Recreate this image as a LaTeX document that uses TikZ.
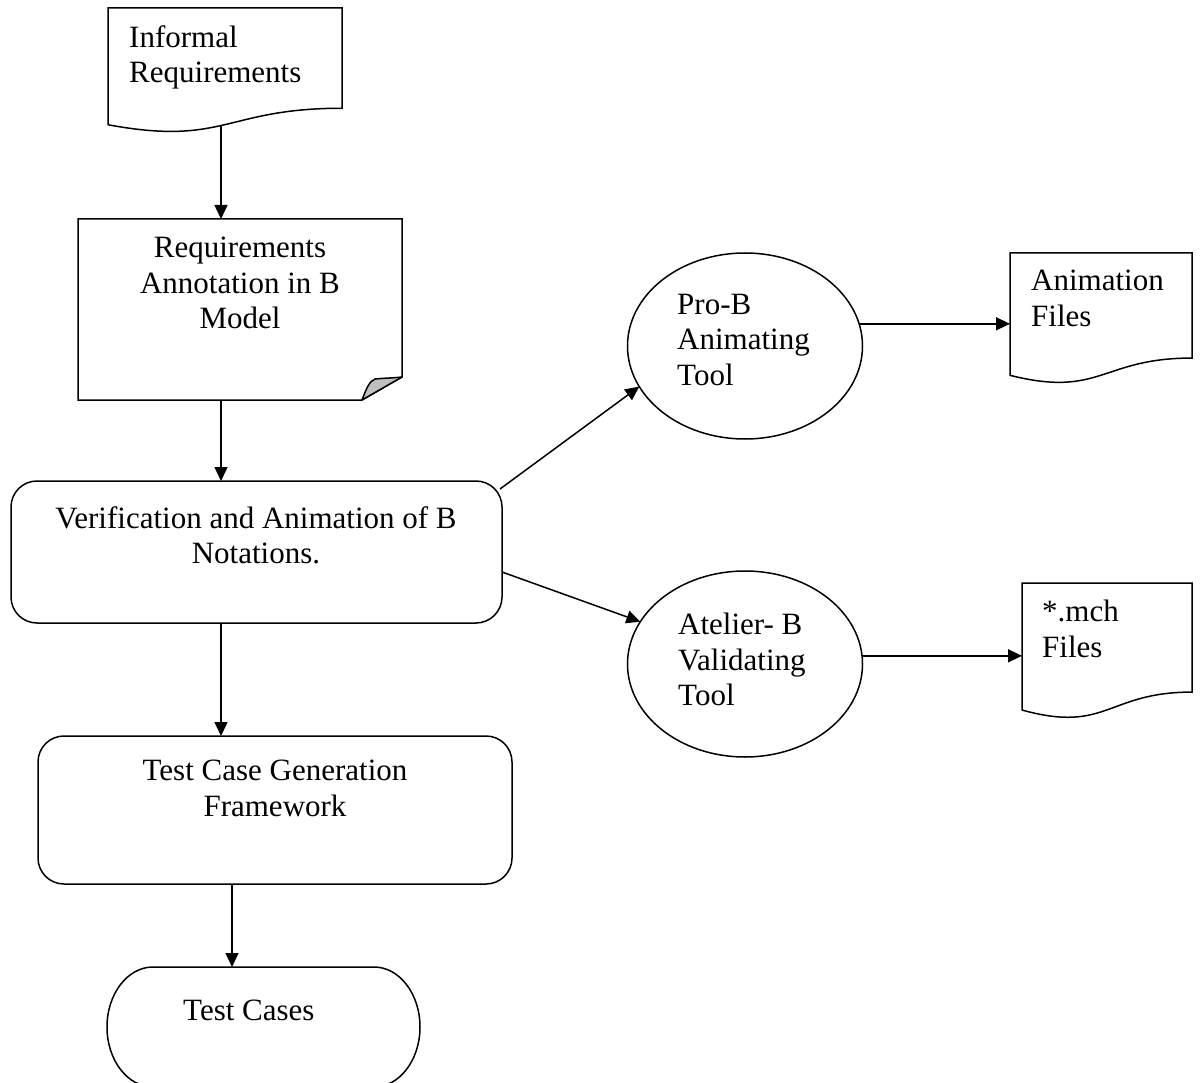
\documentclass[tikz,border=0pt]{standalone}
\usepackage{fontspec}
\setmainfont{Liberation Serif}
\usetikzlibrary{arrows.meta,shapes.geometric,calc}
\newcommand\mydocshape[1]{%
  \draw[shp] (#1.north west) -- (#1.north east) -- ($(#1.north east)!0.802!(#1.south east)$)
    .. controls ($(#1.north)!0.802!(#1.south)$) and ($(#1.north)!1.1075!(#1.south)$) ..
    ($(#1.north west)!0.934!(#1.south west)$) -- cycle;}
\begin{document}
\begin{tikzpicture}[x=1pt,y=-1pt,
  lw/.style={line width=1.5pt},
  shp/.style={draw, lw, fill=white},
  frame/.style={draw=none, inner sep=0pt, outer sep=0pt, anchor=north west},
  lbl/.style={font=\fontsize{31}{35.5}\selectfont, inner sep=0pt, align=left},
  clbl/.style={font=\fontsize{31}{35.5}\selectfont, inner sep=0pt, align=center},
  arr/.style={lw, -{Triangle[length=14pt,width=13pt]}},
  rbox/.style={draw, lw, rounded corners=26pt, inner sep=0pt, outer sep=0pt, anchor=north west},
  ell/.style={draw, lw, ellipse, inner sep=0pt, outer sep=0pt, minimum width=235pt, minimum height=186pt}
]
\useasboundingbox (0,0) rectangle (1200,1083);
\clip (0,0) rectangle (1200,1083);

% shape frames
\node[frame, minimum width=234pt, minimum height=125pt] (inf) at (108,8) {};
\node[frame, minimum width=324pt, minimum height=181pt] (ann) at (78,219) {};
\node[rbox, minimum width=491pt, minimum height=142pt] (ver) at (11,481) {};
\node[rbox, minimum width=474pt, minimum height=148pt] (tcg) at (38,736) {};
\node[frame, minimum width=313pt, minimum height=120pt] (tc) at (107,967) {};
\node[ell] (pro) at (745,346) {};
\node[ell] (ate) at (745,664) {};
\node[frame, minimum width=182pt, minimum height=131pt] (anim) at (1010,253) {};
\node[frame, minimum width=170pt, minimum height=136pt] (mch) at (1022,583) {};

% document shapes
\mydocshape{inf}
\mydocshape{anim}
\mydocshape{mch}

% folded corner box
\draw[shp] (ann.north west) -- (ann.north east) -- ([yshift=23pt]ann.south east)
  -- ([xshift=-40pt]ann.south east) -- (ann.south west) -- cycle;
\begin{scope}[shift={(ann.south east)}]
  \filldraw[lw, fill=black!25, line join=round] (-40,0) .. controls (-36,-10) and (-33,-19) .. (-27,-21)
    .. controls (-17,-22) and (-8,-22) .. (0,-23) -- cycle;
\end{scope}

% terminator
\draw[lw] (374,967) .. controls (399.4,967) and (420,993.9) .. (420,1027)
  .. controls (420,1060.1) and (399.4,1087) .. (374,1087) -- (153,1087)
  .. controls (127.6,1087) and (107,1060.1) .. (107,1027)
  .. controls (107,993.9) and (127.6,967) .. (153,967) -- cycle;

% texts
\node[lbl, anchor=north west] (tinf) at (129,25) {Informal\\Requirements};
\node[clbl, anchor=north] (tann) at (240,237) {Requirements\\Annotation in B\\Model};
\node[clbl, anchor=north] (tver) at (256,506) {Verification and Animation of B\\Notations.};
\node[clbl, anchor=north] (ttcg) at (275,760) {Test Case Generation\\Framework};
\node[lbl, anchor=north west] (ttc) at (183,1000) {Test Cases};
\node[lbl, anchor=north west] (tpro) at (677,294) {Pro-B\\Animating\\Tool};
\node[lbl, anchor=north west] (tate) at (678,613) {Atelier- B\\Validating\\Tool};
\node[lbl, anchor=north west] (tanim) at (1031,270) {Animation\\Files};
\node[lbl, anchor=north west] (tmch) at (1042,600) {*.mch\\Files};

% connector helper coordinates
\coordinate (infB) at (221,126);
\coordinate (tcx) at (232,0);
\coordinate (v1) at (500,489);
\coordinate (v2) at (502,572);

% connectors
\draw[arr] (infB) -- (infB |- ann.north);
\draw[arr] (ann.south -| infB) -- (ver.north -| infB);
\draw[arr] (ver.south -| infB) -- (tcg.north -| infB);
\draw[arr] (tcg.south -| tcx) -- (tc.north -| tcx);
\draw[arr] (v1) -- (pro.201);
\draw[arr] (v2) -- (ate.158);
\draw[arr] (pro.11) -- (pro.11 -| anim.west);
\draw[arr] (ate.4) -- (ate.4 -| mch.west);
\end{tikzpicture}
\end{document}
